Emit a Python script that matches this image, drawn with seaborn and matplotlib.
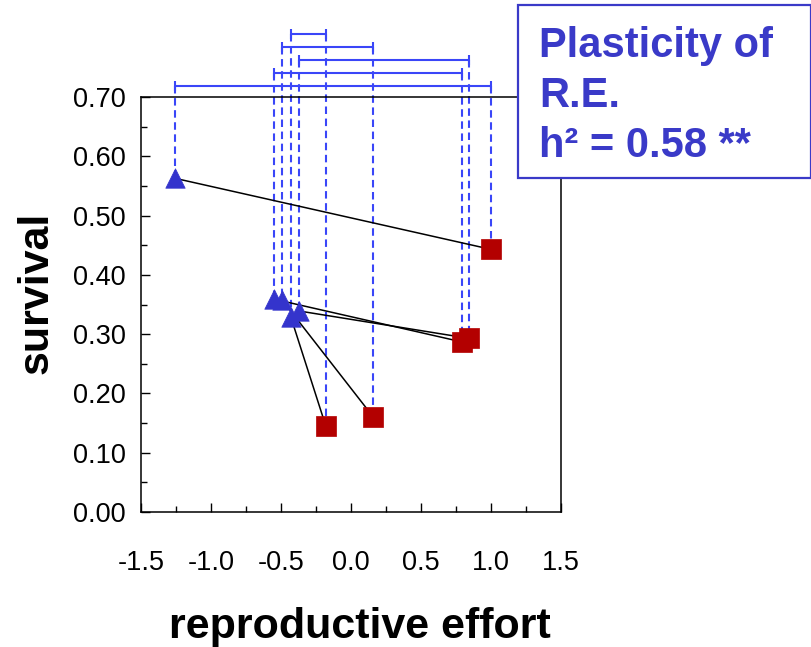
import numpy as np
import pandas as pd
import matplotlib
matplotlib.use("Agg")
import matplotlib.pyplot as plt
from matplotlib.patches import Rectangle
from matplotlib.ticker import MultipleLocator
import seaborn as sns

# Survival vs. reproductive effort for five genotypes in two environments
pairs = ["A", "B", "C", "D", "E"]
low_x = [-1.26, -0.55, -0.49, -0.43, -0.37]
low_y = [0.563, 0.359, 0.357, 0.329, 0.339]
high_x = [1.00, 0.79, 0.16, -0.18, 0.84]
high_y = [0.443, 0.287, 0.160, 0.145, 0.293]

x_ticks = [-1.5, -1.0, -0.5, 0.0, 0.5, 1.0, 1.5]
x_tick_labels = ["-1.5", "-1.0", "-0.5", "0.0", "0.5", "1.0", "1.5"]
y_ticks = [0.0, 0.1, 0.2, 0.3, 0.4, 0.5, 0.6, 0.7]
y_tick_labels = ["0.00", "0.10", "0.20", "0.30", "0.40", "0.50", "0.60", "0.70"]

box_lines = ["Plasticity of", "R.E.", "h\u00b2 = 0.58 **"]

TRI = "#3434CC"
SQ = "#B30000"
DASH = "#3A46F8"
TXT = "#3A3AC8"

sns.set_style("white")
plt.rcParams["font.family"] = ["Liberation Sans", "DejaVu Sans"]
plt.rcParams["text.color"] = "black"
plt.rcParams["xtick.color"] = "black"
plt.rcParams["ytick.color"] = "black"

W, H = 812, 647
fig = plt.figure(figsize=(W / 100, H / 100), dpi=100)
ax = fig.add_axes([141 / W, 1 - 512 / H, 420 / W, 415 / H])

df = pd.DataFrame({
    "pair": pairs * 2,
    "effort": low_x + high_x,
    "survival": low_y + high_y,
    "env": ["low"] * len(pairs) + ["high"] * len(pairs),
})

# connecting lines between the two environments of each genotype
sns.lineplot(data=df, x="effort", y="survival", units="pair", estimator=None,
             sort=False, color="black", lw=1.1, ax=ax, legend=False, zorder=3)

# brackets above the plot linking the two x positions of each genotype
spans = np.abs(np.array(high_x) - np.array(low_x))
order = np.argsort(-spans)
dash = (0, (3.6, 2.2))
for rank, i in enumerate(order):
    lev = 0.718 + 0.022 * rank
    ax.plot([low_x[i], high_x[i]], [lev, lev], color=DASH, lw=1.5,
            marker="|", ms=7, mew=1.5, clip_on=False, zorder=2)
    ax.plot([low_x[i], low_x[i]], [lev, low_y[i]], color=DASH, lw=1.5,
            ls=dash, clip_on=False, zorder=2)
    ax.plot([high_x[i], high_x[i]], [lev, high_y[i]], color=DASH, lw=1.5,
            ls=dash, clip_on=False, zorder=2)

sns.scatterplot(data=df[df.env == "low"], x="effort", y="survival", marker="^",
                s=14 ** 2, color=TRI, edgecolor=TRI, linewidth=0.5, ax=ax,
                zorder=5, legend=False)
sns.scatterplot(data=df[df.env == "high"], x="effort", y="survival", marker="s",
                s=14.5 ** 2, color=SQ, edgecolor=SQ, linewidth=0.5, ax=ax,
                zorder=5, legend=False)

ax.set_xlim(-1.5, 1.5)
ax.set_ylim(0, 0.70)
ax.set_xticks(x_ticks)
ax.set_xticklabels(x_tick_labels)
ax.set_yticks(y_ticks)
ax.set_yticklabels(y_tick_labels)
ax.xaxis.set_minor_locator(MultipleLocator(0.25))
ax.yaxis.set_minor_locator(MultipleLocator(0.05))
ax.tick_params(which="both", direction="in", bottom=True, left=True,
               top=False, right=False, width=1, color="black")
ax.tick_params(which="major", length=6.5)
ax.tick_params(which="minor", length=4.3)
ax.tick_params(axis="x", which="major", pad=27, labelsize=19.5,
               labelcolor="black")
ax.tick_params(axis="y", which="major", pad=11, labelsize=19.5,
               labelcolor="black")
ax.set_xlabel("")
ax.set_ylabel("")
for s in ax.spines.values():
    s.set_color("black")
    s.set_linewidth(1.1)

fig.text(360 / W, 1 - 638 / H, "reproductive effort", fontsize=31,
         fontweight="bold", color="black", ha="center", va="baseline")
fig.text(48 / W, 1 - 293 / H, "survival", fontsize=31, fontweight="bold",
         color="black", rotation=90, rotation_mode="anchor", ha="center",
         va="baseline")

# annotation box in the upper right
box = Rectangle((518 / W, 1 - 178 / H), (811 - 518) / W, (178 - 5) / H,
                transform=fig.transFigure, facecolor="white", edgecolor=TXT,
                lw=1.6, zorder=10)
fig.add_artist(box)
for k, line in enumerate(box_lines):
    fig.text(539 / W, 1 - (57 + 50 * k) / H, line, fontsize=30,
             fontweight="bold", color=TXT, ha="left", va="baseline", zorder=11)

fig.savefig("out.png", dpi=100)
